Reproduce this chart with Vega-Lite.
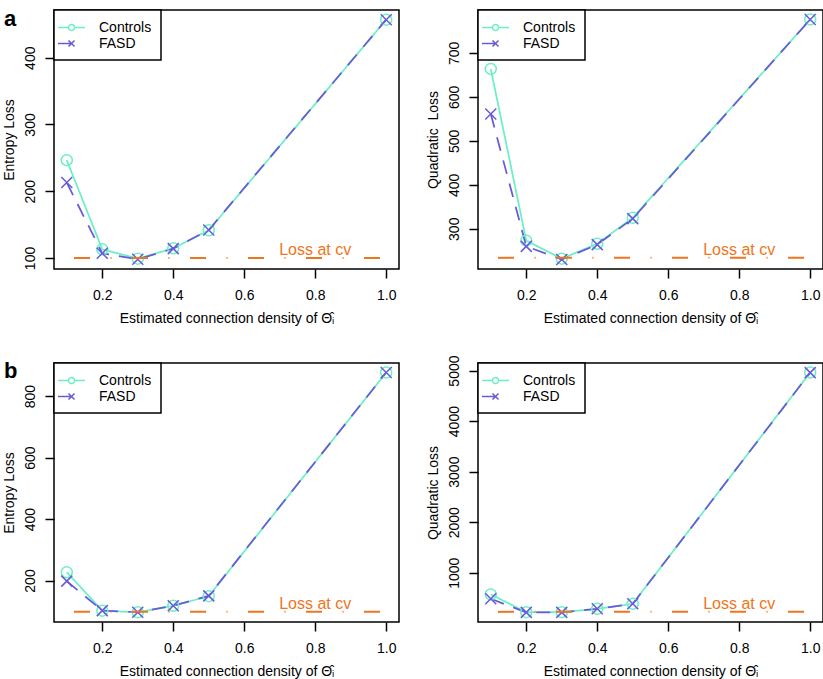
{
  "$schema": "https://vega.github.io/schema/vega-lite/v6.json",
  "autosize": {"type": "pad"},
  "padding": {"left": 1, "top": 7, "right": 0, "bottom": 0},
  "background": "white",
  "datasets": {
    "loss": [
      {"panel": "aE", "series": "Controls", "x": 0.1, "y": 246.5},
      {"panel": "aE", "series": "Controls", "x": 0.2, "y": 113},
      {"panel": "aE", "series": "Controls", "x": 0.3, "y": 99},
      {"panel": "aE", "series": "Controls", "x": 0.4, "y": 114.5},
      {"panel": "aE", "series": "Controls", "x": 0.5, "y": 141.5},
      {"panel": "aE", "series": "Controls", "x": 1.0, "y": 457},
      {"panel": "aE", "series": "FASD", "x": 0.1, "y": 213},
      {"panel": "aE", "series": "FASD", "x": 0.2, "y": 107},
      {"panel": "aE", "series": "FASD", "x": 0.3, "y": 98},
      {"panel": "aE", "series": "FASD", "x": 0.4, "y": 114},
      {"panel": "aE", "series": "FASD", "x": 0.5, "y": 142},
      {"panel": "aE", "series": "FASD", "x": 1.0, "y": 457},
      {"panel": "aQ", "series": "Controls", "x": 0.1, "y": 663.6},
      {"panel": "aQ", "series": "Controls", "x": 0.2, "y": 273},
      {"panel": "aQ", "series": "Controls", "x": 0.3, "y": 232},
      {"panel": "aQ", "series": "Controls", "x": 0.4, "y": 266},
      {"panel": "aQ", "series": "Controls", "x": 0.5, "y": 325},
      {"panel": "aQ", "series": "Controls", "x": 1.0, "y": 776},
      {"panel": "aQ", "series": "FASD", "x": 0.1, "y": 561},
      {"panel": "aQ", "series": "FASD", "x": 0.2, "y": 260},
      {"panel": "aQ", "series": "FASD", "x": 0.3, "y": 230},
      {"panel": "aQ", "series": "FASD", "x": 0.4, "y": 264},
      {"panel": "aQ", "series": "FASD", "x": 0.5, "y": 323},
      {"panel": "aQ", "series": "FASD", "x": 1.0, "y": 776},
      {"panel": "bE", "series": "Controls", "x": 0.1, "y": 227},
      {"panel": "bE", "series": "Controls", "x": 0.2, "y": 102},
      {"panel": "bE", "series": "Controls", "x": 0.3, "y": 96.5},
      {"panel": "bE", "series": "Controls", "x": 0.4, "y": 118},
      {"panel": "bE", "series": "Controls", "x": 0.5, "y": 149},
      {"panel": "bE", "series": "Controls", "x": 1.0, "y": 877},
      {"panel": "bE", "series": "FASD", "x": 0.1, "y": 198},
      {"panel": "bE", "series": "FASD", "x": 0.2, "y": 102},
      {"panel": "bE", "series": "FASD", "x": 0.3, "y": 97},
      {"panel": "bE", "series": "FASD", "x": 0.4, "y": 118},
      {"panel": "bE", "series": "FASD", "x": 0.5, "y": 150},
      {"panel": "bE", "series": "FASD", "x": 1.0, "y": 877},
      {"panel": "bQ", "series": "Controls", "x": 0.1, "y": 571},
      {"panel": "bQ", "series": "Controls", "x": 0.2, "y": 220},
      {"panel": "bQ", "series": "Controls", "x": 0.3, "y": 220},
      {"panel": "bQ", "series": "Controls", "x": 0.4, "y": 286},
      {"panel": "bQ", "series": "Controls", "x": 0.5, "y": 385},
      {"panel": "bQ", "series": "Controls", "x": 1.0, "y": 4962},
      {"panel": "bQ", "series": "FASD", "x": 0.1, "y": 484},
      {"panel": "bQ", "series": "FASD", "x": 0.2, "y": 215},
      {"panel": "bQ", "series": "FASD", "x": 0.3, "y": 215},
      {"panel": "bQ", "series": "FASD", "x": 0.4, "y": 286},
      {"panel": "bQ", "series": "FASD", "x": 0.5, "y": 385},
      {"panel": "bQ", "series": "FASD", "x": 1.0, "y": 4960}
    ],
    "cv": [
      {"panel": "aE", "y": 100},
      {"panel": "aQ", "y": 234},
      {"panel": "bE", "y": 98},
      {"panel": "bQ", "y": 226}
    ],
    "tags": [
      {"panel": "aE", "tag": "a"},
      {"panel": "bE", "tag": "b"}
    ]
  },
  "columns": 2,
  "bounds": "flush",
  "spacing": {"row": 94, "column": 79},
  "resolve": {"scale": {"color": "independent", "strokeDash": "independent"}},
  "concat": [
    {
      "width": 345, "height": 259,
      "layer": [
        {
          "data": {"name": "loss"},
          "transform": [{"filter": "datum.panel === 'aE'"}],
          "mark": {"type": "line", "strokeWidth": 1.75},
          "encoding": {
            "x": {"field": "x", "type": "quantitative", "scale": {"domain": [0.064, 1.036], "nice": false, "zero": false}, "axis": {"values": [0.2, 0.4, 0.6, 0.8, 1.0], "format": ".1f", "title": "Estimated connection density of \u0398\u0302\u1d62"}},
            "y": {"field": "y", "type": "quantitative", "scale": {"domain": [83.5, 471.5], "nice": false, "zero": false}, "axis": {"values": [100, 150, 200, 250, 300, 350, 400, 450], "labelExpr": "datum.value % 100 === 0 ? datum.label : ''", "title": "Entropy Loss"}},
            "color": {"field": "series", "type": "nominal", "scale": {"domain": ["Controls", "FASD"], "range": ["#6CEFC4", "#675BD9"]},
              "legend": {"orient": "top-left", "offset": 0, "title": null, "fillColor": "#fff", "strokeColor": "#000", "padding": 9.5, "symbolSize": 196, "symbolStrokeWidth": 1.5, "symbolOpacity": 1, "labelFontSize": 14, "labelFont": "Liberation Sans", "labelColor": "#000", "labelOffset": 19.5, "rowPadding": 1,
                "encode": {"legend": {"update": {"strokeWidth": {"value": 1.5}}}, "symbols": {"update": {"fill": {"value": "transparent"}, "strokeWidth": {"value": 1.5}, "shape": {"signal": "datum.value === 'Controls' ? 'M-1.93,0H-0.43M0.43,0H1.93M0.43,0A0.43,0.43 0 1,1 -0.43,0A0.43,0.43 0 1,1 0.43,0' : 'M-1.93,0H0M-0.43,-0.43L0.43,0.43M-0.43,0.43L0.43,-0.43'"}}}}}},
            "strokeDash": {"field": "series", "type": "nominal", "scale": {"domain": ["Controls", "FASD"], "range": [[1, 0], [14, 10]]}, "legend": null}
          }
        },
        {
          "data": {"name": "loss"},
          "transform": [{"filter": "datum.panel === 'aE' && datum.series === 'Controls'"}],
          "mark": {"type": "point", "shape": "circle", "filled": false, "strokeWidth": 1.5, "opacity": 1, "size": 121},
          "encoding": {"x": {"field": "x", "type": "quantitative"}, "y": {"field": "y", "type": "quantitative"}, "color": {"field": "series", "type": "nominal"}}
        },
        {
          "data": {"name": "loss"},
          "transform": [{"filter": "datum.panel === 'aE' && datum.series === 'FASD'"}],
          "mark": {"type": "point", "shape": "M-1,-1L1,1M-1,1L1,-1", "filled": false, "strokeWidth": 1.5, "opacity": 1, "size": 121},
          "encoding": {"x": {"field": "x", "type": "quantitative"}, "y": {"field": "y", "type": "quantitative"}, "color": {"field": "series", "type": "nominal"}}
        },
        {
          "data": {"name": "cv"},
          "transform": [{"filter": "datum.panel === 'aE'"}],
          "mark": {"type": "rule", "color": "#EE7621", "strokeWidth": 2, "strokeDash": [16, 20.5, 1, 20.5], "strokeDashOffset": 38},
          "encoding": {"x": {"datum": 0.064, "type": "quantitative"}, "x2": {"datum": 1.036}, "y": {"field": "y", "type": "quantitative"}}
        },
        {
          "data": {"name": "cv"},
          "transform": [{"filter": "datum.panel === 'aE'"}],
          "mark": {"type": "text", "text": "Loss at cv", "color": "#EE7621", "fontSize": 16, "font": "Liberation Sans", "baseline": "alphabetic", "align": "center", "dy": -3},
          "encoding": {"x": {"datum": 0.8, "type": "quantitative"}, "y": {"field": "y", "type": "quantitative"}}
        },
        {
          "data": {"name": "tags"},
          "transform": [{"filter": "datum.panel === 'aE'"}],
          "mark": {"type": "text", "color": "#000", "fontSize": 22, "fontWeight": "bold", "font": "Liberation Sans", "baseline": "alphabetic", "align": "left"},
          "encoding": {"text": {"field": "tag"}, "x": {"datum": -0.0769, "type": "quantitative"}, "y": {"datum": 447.5, "type": "quantitative"}}
        }
      ]
    },
    {
      "width": 345, "height": 259,
      "layer": [
        {
          "data": {"name": "loss"},
          "transform": [{"filter": "datum.panel === 'aQ'"}],
          "mark": {"type": "line", "strokeWidth": 1.75},
          "encoding": {
            "x": {"field": "x", "type": "quantitative", "scale": {"domain": [0.064, 1.036], "nice": false, "zero": false}, "axis": {"values": [0.2, 0.4, 0.6, 0.8, 1.0], "format": ".1f", "title": "Estimated connection density of \u0398\u0302\u1d62"}},
            "y": {"field": "y", "type": "quantitative", "scale": {"domain": [208.5, 797.5], "nice": false, "zero": false}, "axis": {"values": [300, 400, 500, 600, 700], "title": "Quadratic\u00a0 Loss"}},
            "color": {"field": "series", "type": "nominal", "scale": {"domain": ["Controls", "FASD"], "range": ["#6CEFC4", "#675BD9"]},
              "legend": {"orient": "top-left", "offset": 0, "title": null, "fillColor": "#fff", "strokeColor": "#000", "padding": 9.5, "symbolSize": 196, "symbolStrokeWidth": 1.5, "symbolOpacity": 1, "labelFontSize": 14, "labelFont": "Liberation Sans", "labelColor": "#000", "labelOffset": 19.5, "rowPadding": 1,
                "encode": {"legend": {"update": {"strokeWidth": {"value": 1.5}}}, "symbols": {"update": {"fill": {"value": "transparent"}, "strokeWidth": {"value": 1.5}, "shape": {"signal": "datum.value === 'Controls' ? 'M-1.93,0H-0.43M0.43,0H1.93M0.43,0A0.43,0.43 0 1,1 -0.43,0A0.43,0.43 0 1,1 0.43,0' : 'M-1.93,0H0M-0.43,-0.43L0.43,0.43M-0.43,0.43L0.43,-0.43'"}}}}}},
            "strokeDash": {"field": "series", "type": "nominal", "scale": {"domain": ["Controls", "FASD"], "range": [[1, 0], [14, 10]]}, "legend": null}
          }
        },
        {
          "data": {"name": "loss"},
          "transform": [{"filter": "datum.panel === 'aQ' && datum.series === 'Controls'"}],
          "mark": {"type": "point", "shape": "circle", "filled": false, "strokeWidth": 1.5, "opacity": 1, "size": 121},
          "encoding": {"x": {"field": "x", "type": "quantitative"}, "y": {"field": "y", "type": "quantitative"}, "color": {"field": "series", "type": "nominal"}}
        },
        {
          "data": {"name": "loss"},
          "transform": [{"filter": "datum.panel === 'aQ' && datum.series === 'FASD'"}],
          "mark": {"type": "point", "shape": "M-1,-1L1,1M-1,1L1,-1", "filled": false, "strokeWidth": 1.5, "opacity": 1, "size": 121},
          "encoding": {"x": {"field": "x", "type": "quantitative"}, "y": {"field": "y", "type": "quantitative"}, "color": {"field": "series", "type": "nominal"}}
        },
        {
          "data": {"name": "cv"},
          "transform": [{"filter": "datum.panel === 'aQ'"}],
          "mark": {"type": "rule", "color": "#EE7621", "strokeWidth": 2, "strokeDash": [16, 20.5, 1, 20.5], "strokeDashOffset": 38},
          "encoding": {"x": {"datum": 0.064, "type": "quantitative"}, "x2": {"datum": 1.036}, "y": {"field": "y", "type": "quantitative"}}
        },
        {
          "data": {"name": "cv"},
          "transform": [{"filter": "datum.panel === 'aQ'"}],
          "mark": {"type": "text", "text": "Loss at cv", "color": "#EE7621", "fontSize": 16, "font": "Liberation Sans", "baseline": "alphabetic", "align": "center", "dy": -3},
          "encoding": {"x": {"datum": 0.8, "type": "quantitative"}, "y": {"field": "y", "type": "quantitative"}}
        }
      ]
    },
    {
      "width": 345, "height": 259,
      "layer": [
        {
          "data": {"name": "loss"},
          "transform": [{"filter": "datum.panel === 'bE'"}],
          "mark": {"type": "line", "strokeWidth": 1.75},
          "encoding": {
            "x": {"field": "x", "type": "quantitative", "scale": {"domain": [0.064, 1.036], "nice": false, "zero": false}, "axis": {"values": [0.2, 0.4, 0.6, 0.8, 1.0], "format": ".1f", "title": "Estimated connection density of \u0398\u0302\u1d62"}},
            "y": {"field": "y", "type": "quantitative", "scale": {"domain": [65, 908], "nice": false, "zero": false}, "axis": {"values": [200, 400, 600, 800], "title": "Entropy Loss"}},
            "color": {"field": "series", "type": "nominal", "scale": {"domain": ["Controls", "FASD"], "range": ["#6CEFC4", "#675BD9"]},
              "legend": {"orient": "top-left", "offset": 0, "title": null, "fillColor": "#fff", "strokeColor": "#000", "padding": 9.5, "symbolSize": 196, "symbolStrokeWidth": 1.5, "symbolOpacity": 1, "labelFontSize": 14, "labelFont": "Liberation Sans", "labelColor": "#000", "labelOffset": 19.5, "rowPadding": 1,
                "encode": {"legend": {"update": {"strokeWidth": {"value": 1.5}}}, "symbols": {"update": {"fill": {"value": "transparent"}, "strokeWidth": {"value": 1.5}, "shape": {"signal": "datum.value === 'Controls' ? 'M-1.93,0H-0.43M0.43,0H1.93M0.43,0A0.43,0.43 0 1,1 -0.43,0A0.43,0.43 0 1,1 0.43,0' : 'M-1.93,0H0M-0.43,-0.43L0.43,0.43M-0.43,0.43L0.43,-0.43'"}}}}}},
            "strokeDash": {"field": "series", "type": "nominal", "scale": {"domain": ["Controls", "FASD"], "range": [[1, 0], [14, 10]]}, "legend": null}
          }
        },
        {
          "data": {"name": "loss"},
          "transform": [{"filter": "datum.panel === 'bE' && datum.series === 'Controls'"}],
          "mark": {"type": "point", "shape": "circle", "filled": false, "strokeWidth": 1.5, "opacity": 1, "size": 121},
          "encoding": {"x": {"field": "x", "type": "quantitative"}, "y": {"field": "y", "type": "quantitative"}, "color": {"field": "series", "type": "nominal"}}
        },
        {
          "data": {"name": "loss"},
          "transform": [{"filter": "datum.panel === 'bE' && datum.series === 'FASD'"}],
          "mark": {"type": "point", "shape": "M-1,-1L1,1M-1,1L1,-1", "filled": false, "strokeWidth": 1.5, "opacity": 1, "size": 121},
          "encoding": {"x": {"field": "x", "type": "quantitative"}, "y": {"field": "y", "type": "quantitative"}, "color": {"field": "series", "type": "nominal"}}
        },
        {
          "data": {"name": "cv"},
          "transform": [{"filter": "datum.panel === 'bE'"}],
          "mark": {"type": "rule", "color": "#EE7621", "strokeWidth": 2, "strokeDash": [16, 20.5, 1, 20.5], "strokeDashOffset": 38},
          "encoding": {"x": {"datum": 0.064, "type": "quantitative"}, "x2": {"datum": 1.036}, "y": {"field": "y", "type": "quantitative"}}
        },
        {
          "data": {"name": "cv"},
          "transform": [{"filter": "datum.panel === 'bE'"}],
          "mark": {"type": "text", "text": "Loss at cv", "color": "#EE7621", "fontSize": 16, "font": "Liberation Sans", "baseline": "alphabetic", "align": "center", "dy": -3},
          "encoding": {"x": {"datum": 0.8, "type": "quantitative"}, "y": {"field": "y", "type": "quantitative"}}
        },
        {
          "data": {"name": "tags"},
          "transform": [{"filter": "datum.panel === 'bE'"}],
          "mark": {"type": "text", "color": "#000", "fontSize": 22, "fontWeight": "bold", "font": "Liberation Sans", "baseline": "alphabetic", "align": "left"},
          "encoding": {"text": {"field": "tag"}, "x": {"datum": -0.0769, "type": "quantitative"}, "y": {"datum": 859.2, "type": "quantitative"}}
        }
      ]
    },
    {
      "width": 345, "height": 259,
      "layer": [
        {
          "data": {"name": "loss"},
          "transform": [{"filter": "datum.panel === 'bQ'"}],
          "mark": {"type": "line", "strokeWidth": 1.75},
          "encoding": {
            "x": {"field": "x", "type": "quantitative", "scale": {"domain": [0.064, 1.036], "nice": false, "zero": false}, "axis": {"values": [0.2, 0.4, 0.6, 0.8, 1.0], "format": ".1f", "title": "Estimated connection density of \u0398\u0302\u1d62"}},
            "y": {"field": "y", "type": "quantitative", "scale": {"domain": [25, 5150], "nice": false, "zero": false}, "axis": {"values": [1000, 2000, 3000, 4000, 5000], "format": "d", "title": "Quadratic Loss"}},
            "color": {"field": "series", "type": "nominal", "scale": {"domain": ["Controls", "FASD"], "range": ["#6CEFC4", "#675BD9"]},
              "legend": {"orient": "top-left", "offset": 0, "title": null, "fillColor": "#fff", "strokeColor": "#000", "padding": 9.5, "symbolSize": 196, "symbolStrokeWidth": 1.5, "symbolOpacity": 1, "labelFontSize": 14, "labelFont": "Liberation Sans", "labelColor": "#000", "labelOffset": 19.5, "rowPadding": 1,
                "encode": {"legend": {"update": {"strokeWidth": {"value": 1.5}}}, "symbols": {"update": {"fill": {"value": "transparent"}, "strokeWidth": {"value": 1.5}, "shape": {"signal": "datum.value === 'Controls' ? 'M-1.93,0H-0.43M0.43,0H1.93M0.43,0A0.43,0.43 0 1,1 -0.43,0A0.43,0.43 0 1,1 0.43,0' : 'M-1.93,0H0M-0.43,-0.43L0.43,0.43M-0.43,0.43L0.43,-0.43'"}}}}}},
            "strokeDash": {"field": "series", "type": "nominal", "scale": {"domain": ["Controls", "FASD"], "range": [[1, 0], [14, 10]]}, "legend": null}
          }
        },
        {
          "data": {"name": "loss"},
          "transform": [{"filter": "datum.panel === 'bQ' && datum.series === 'Controls'"}],
          "mark": {"type": "point", "shape": "circle", "filled": false, "strokeWidth": 1.5, "opacity": 1, "size": 121},
          "encoding": {"x": {"field": "x", "type": "quantitative"}, "y": {"field": "y", "type": "quantitative"}, "color": {"field": "series", "type": "nominal"}}
        },
        {
          "data": {"name": "loss"},
          "transform": [{"filter": "datum.panel === 'bQ' && datum.series === 'FASD'"}],
          "mark": {"type": "point", "shape": "M-1,-1L1,1M-1,1L1,-1", "filled": false, "strokeWidth": 1.5, "opacity": 1, "size": 121},
          "encoding": {"x": {"field": "x", "type": "quantitative"}, "y": {"field": "y", "type": "quantitative"}, "color": {"field": "series", "type": "nominal"}}
        },
        {
          "data": {"name": "cv"},
          "transform": [{"filter": "datum.panel === 'bQ'"}],
          "mark": {"type": "rule", "color": "#EE7621", "strokeWidth": 2, "strokeDash": [16, 20.5, 1, 20.5], "strokeDashOffset": 38},
          "encoding": {"x": {"datum": 0.064, "type": "quantitative"}, "x2": {"datum": 1.036}, "y": {"field": "y", "type": "quantitative"}}
        },
        {
          "data": {"name": "cv"},
          "transform": [{"filter": "datum.panel === 'bQ'"}],
          "mark": {"type": "text", "text": "Loss at cv", "color": "#EE7621", "fontSize": 16, "font": "Liberation Sans", "baseline": "alphabetic", "align": "center", "dy": -3},
          "encoding": {"x": {"datum": 0.8, "type": "quantitative"}, "y": {"field": "y", "type": "quantitative"}}
        }
      ]
    }
  ],
  "config": {
    "font": "Liberation Sans",
    "view": {"stroke": "#000", "strokeWidth": 1.5},
    "axis": {"grid": false, "domain": false, "tickColor": "#000", "tickWidth": 1.5, "tickSize": 9, "labelFont": "Liberation Sans", "labelFontSize": 14, "labelColor": "#000", "titleFont": "Liberation Sans", "titleFontSize": 14, "titleFontWeight": "normal", "titleColor": "#000"},
    "axisX": {"labelPadding": 10, "titlePadding": 9},
    "axisY": {"labelAngle": 270, "labelAlign": "center", "labelBaseline": "bottom", "labelPadding": 8, "titlePadding": 7}
  }
}
